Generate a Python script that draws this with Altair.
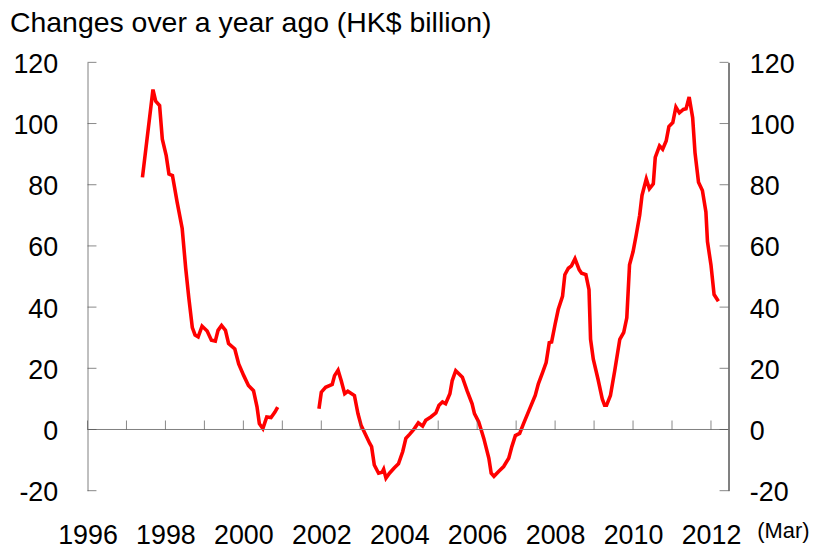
import altair as alt
import pandas as pd

# ---- data (decimal year, HK$ billion) ----
seg1_year = [1997.41, 1997.68, 1997.75, 1997.85, 1997.92, 1998.02, 1998.09, 1998.18,
             1998.30, 1998.43, 1998.52, 1998.60, 1998.69, 1998.76, 1998.84, 1998.94,
             1999.07, 1999.18, 1999.28, 1999.35, 1999.44, 1999.54, 1999.62, 1999.78,
             1999.88, 2000.01, 2000.13, 2000.26, 2000.35, 2000.41, 2000.50, 2000.60,
             2000.71, 2000.81, 2000.88]
seg1_value = [82.4, 111.1, 107.3, 105.9, 94.9, 89.5, 83.5, 83.0,
              74.3, 65.7, 52.7, 43.0, 33.3, 30.9, 30.3, 33.8,
              32.2, 29.2, 28.9, 32.4, 34.0, 32.4, 28.1, 26.3,
              21.4, 17.6, 14.4, 12.7, 7.4, 1.9, 0.3, 4.1,
              3.9, 5.7, 7.3]

seg2_year = [2001.94, 2002.00, 2002.11, 2002.28, 2002.34, 2002.43, 2002.51, 2002.60,
             2002.68, 2002.85, 2002.94, 2003.02, 2003.14, 2003.24, 2003.29, 2003.36,
             2003.47, 2003.56, 2003.60, 2003.66, 2003.75, 2003.87, 2003.98, 2004.09,
             2004.17, 2004.27, 2004.39, 2004.49, 2004.60, 2004.68, 2004.81, 2004.94,
             2005.02, 2005.11, 2005.19, 2005.30, 2005.36, 2005.45, 2005.62, 2005.74,
             2005.87, 2005.93, 2006.04, 2006.17, 2006.30, 2006.36, 2006.43, 2006.55,
             2006.68, 2006.81, 2006.89, 2006.98, 2007.09, 2007.19, 2007.32, 2007.49,
             2007.57, 2007.68, 2007.77, 2007.85, 2007.91, 2008.00, 2008.08, 2008.19,
             2008.25, 2008.34, 2008.42, 2008.51, 2008.62, 2008.68, 2008.79, 2008.87,
             2008.91, 2008.98, 2009.10, 2009.21, 2009.27, 2009.32, 2009.42, 2009.53,
             2009.66, 2009.76, 2009.84, 2009.91, 2010.00, 2010.08, 2010.17, 2010.23,
             2010.34, 2010.42, 2010.52, 2010.57, 2010.68, 2010.76, 2010.85, 2010.92,
             2011.02, 2011.10, 2011.19, 2011.29, 2011.36, 2011.44, 2011.53, 2011.59,
             2011.68, 2011.78, 2011.87, 2011.91, 2012.00, 2012.08, 2012.19]
seg2_value = [6.8, 12.2, 13.8, 14.7, 17.6, 19.4, 16.0, 11.7,
              12.5, 11.1, 5.2, 1.4, -1.8, -4.5, -5.6, -11.6,
              -14.3, -14.0, -13.0, -15.9, -14.3, -12.6, -11.2, -7.2,
              -2.9, -1.5, 0.3, 2.2, 1.1, 3.0, 4.1, 5.4,
              7.9, 9.0, 8.4, 11.7, 16.0, 19.2, 17.1, 12.7,
              8.4, 5.2, 2.5, -2.9, -9.4, -14.3, -15.3, -13.7,
              -12.1, -9.4, -5.6, -2.0, -1.3, 1.9, 5.9, 11.1,
              14.9, 18.7, 21.9, 28.4, 28.6, 34.4, 39.2, 43.5,
              50.6, 52.7, 53.5, 55.8, 52.2, 51.1, 50.6, 45.7,
              29.5, 23.0, 16.5, 10.0, 7.9, 7.9, 11.1, 19.2,
              29.5, 31.7, 36.5, 53.8, 58.1, 63.5, 70.0, 76.5,
              81.9, 78.7, 80.3, 88.9, 92.7, 91.6, 94.3, 99.0,
              100.3, 105.4, 103.5, 104.6, 104.8, 108.7, 101.9, 90.5,
              80.8, 78.1, 71.1, 61.4, 53.8, 44.1, 41.9]

y_ticks = [-20, 0, 20, 40, 60, 80, 100, 120]
year_ticks = list(range(1996, 2013))
year_labels = list(range(1996, 2013, 2))
x_domain = [1996, 2012.45]
y_domain = [-20, 120]
title_text = "Changes over a year ago (HK$ billion)"
end_note = "(Mar)"

FONT = "Liberation Sans"
W, H = 645, 431

df_line = pd.DataFrame({
    "year": seg1_year + seg2_year,
    "value": seg1_value + seg2_value,
    "seg": ["a"] * len(seg1_year) + ["b"] * len(seg2_year),
})
df_years = pd.DataFrame({"year": year_ticks, "z": [0] * len(year_ticks)})
df_yt = pd.DataFrame({"v": y_ticks})
df_zero = pd.DataFrame({"z": [0]})

xs = alt.Scale(domain=x_domain, nice=False, zero=False)
ys = alt.Scale(domain=y_domain, nice=False, zero=False)

line = alt.Chart(df_line).mark_line(color="#FF0000", strokeWidth=3.6).encode(
    x=alt.X("year:Q", scale=xs, title=None,
            axis=alt.Axis(orient="bottom", values=year_labels, format="d", domain=False,
                          ticks=False, grid=False, labelFontSize=27, labelFont=FONT,
                          labelColor="black", labelPadding=32, labelFlush=False,
                          labelOverlap=False)),
    y=alt.Y("value:Q", scale=ys, title=None,
            axis=alt.Axis(orient="left", values=y_ticks, grid=False, ticks=False,
                          domain=True, domainColor="#808080", domainWidth=1,
                          labelFontSize=27, labelFont=FONT, labelColor="black",
                          labelPadding=30, labelOverlap=False, labelOffset=2,
                          labelExpr="'' + datum.value")),
    detail="seg:N",
)

zero = alt.Chart(df_zero).mark_rule(color="#808080", strokeWidth=1).encode(
    y=alt.Y("z:Q", scale=ys, axis=None)
)

xticks = alt.Chart(df_years).mark_tick(
    orient="vertical", size=9, thickness=1, color="#555555", yOffset=-4.5
).encode(
    x=alt.X("year:Q", scale=xs, axis=None),
    y=alt.Y("z:Q", scale=ys, axis=None),
)

lticks = alt.Chart(df_yt).mark_tick(
    orient="horizontal", size=9, thickness=1, color="#555555", xOffset=4.5
).encode(
    y=alt.Y("v:Q", scale=ys, axis=None),
    x=alt.X(datum=x_domain[0], type="quantitative", scale=xs, axis=None),
)

rticks = alt.Chart(df_yt).mark_tick(
    orient="horizontal", size=9, thickness=1, color="#555555", xOffset=-4.5
).encode(
    y=alt.Y("v:Q", scale=ys, title=None,
            axis=alt.Axis(orient="right", values=y_ticks, grid=False, ticks=False,
                          domain=True, domainColor="#000000", domainWidth=1,
                          labelFontSize=27, labelFont=FONT, labelColor="black",
                          labelPadding=21, labelOverlap=False, labelOffset=2,
                          labelExpr="'' + datum.value")),
    x=alt.X(datum=x_domain[1], type="quantitative", scale=xs, axis=None),
)

note = alt.Chart(df_zero).mark_text(
    text=end_note, font=FONT, fontSize=22, align="left", baseline="middle", color="black"
).encode(x=alt.value(W + 29), y=alt.value(H + 41))

chart = alt.layer(line, zero, xticks, lticks, rticks, note).resolve_axis(
    x="independent", y="independent"
).properties(
    width=W, height=H,
    autosize=alt.AutoSizeParams(type="none"),
    padding={"left": 80, "top": 53, "right": 82, "bottom": 58},
    title=alt.TitleParams(title_text, anchor="start", frame="group", dx=-78, offset=13,
                          fontSize=28.6, font=FONT, fontWeight="normal", color="black"),
).configure_view(stroke=None)

chart.save("out.html", embed_options={"renderer": "svg", "actions": False})
